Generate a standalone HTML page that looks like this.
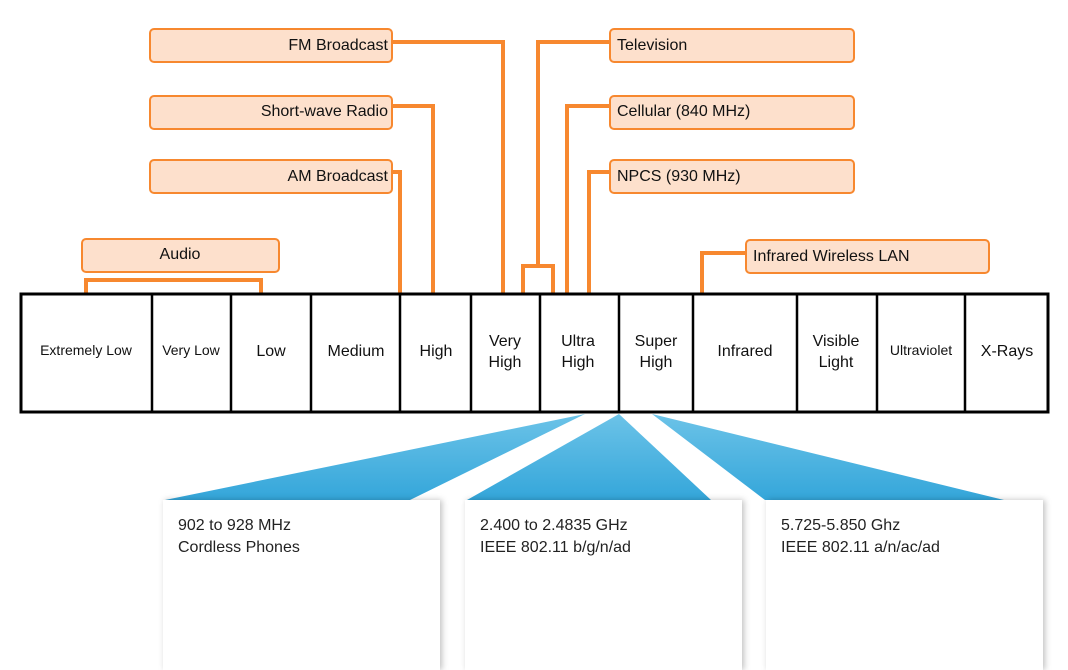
<!DOCTYPE html>
<html><head><style>
body{margin:0;width:1068px;height:661px;background:#fff;overflow:hidden;font-family:"Liberation Sans",sans-serif}
svg{position:absolute;left:0;top:0}
.card{position:absolute;top:500px;height:170px;background:#fff;box-shadow:2px 0 6px rgba(0,0,0,.25);font-size:16px;color:#222;line-height:22px;padding:15px 15px;box-sizing:border-box}
</style></head><body>
<svg width="1068" height="661" font-family="Liberation Sans, sans-serif">
<defs><linearGradient id="g" x1="0" y1="0" x2="0" y2="1"><stop offset="0" stop-color="#6cc3e8"/><stop offset="1" stop-color="#34a6da"/></linearGradient></defs>
<g fill="url(#g)">
<polygon points="585,414 165,500 410,500"/>
<polygon points="619,414 467,500 711,500"/>
<polygon points="652,414 765,500 1004,500"/>
</g>
<g stroke="#f7882f" stroke-width="4" fill="none">
<polyline points="392,42 503,42 503,293"/>
<polyline points="392,106 433,106 433,293"/>
<polyline points="392,172 400,172 400,293"/>
<polyline points="610,42 538,42 538,266"/>
<polyline points="523,293 523,266 553,266 553,293"/>
<polyline points="610,106 567,106 567,293"/>
<polyline points="610,172 589,172 589,293"/>
<polyline points="86,293 86,280 261,280 261,293"/>
<polyline points="746,253 702,253 702,293"/>
</g>
<g fill="#fde0cc" stroke="#f7882f" stroke-width="2">
<rect x="150" y="29" width="242" height="33" rx="4"/>
<rect x="150" y="96" width="242" height="33" rx="4"/>
<rect x="150" y="160" width="242" height="33" rx="4"/>
<rect x="610" y="29" width="244" height="33" rx="4"/>
<rect x="610" y="96" width="244" height="33" rx="4"/>
<rect x="610" y="160" width="244" height="33" rx="4"/>
<rect x="82" y="239" width="197" height="33" rx="4"/>
<rect x="746" y="240" width="243" height="33" rx="4"/>
</g>
<g font-size="16" fill="#111" dominant-baseline="middle">
<text x="388" y="46" text-anchor="end">FM Broadcast</text>
<text x="388" y="112" text-anchor="end">Short-wave Radio</text>
<text x="388" y="177" text-anchor="end">AM Broadcast</text>
<text x="617" y="46">Television</text>
<text x="617" y="112">Cellular (840 MHz)</text>
<text x="617" y="177">NPCS (930 MHz)</text>
<text x="180" y="255" text-anchor="middle">Audio</text>
<text x="753" y="257">Infrared Wireless LAN</text>
</g>
<rect x="21" y="294" width="1027" height="118" fill="#fff" stroke="#000" stroke-width="3"/>
<g stroke="#000" stroke-width="2.5">
<line x1="152" y1="294" x2="152" y2="412"/><line x1="231" y1="294" x2="231" y2="412"/>
<line x1="311" y1="294" x2="311" y2="412"/><line x1="400" y1="294" x2="400" y2="412"/>
<line x1="471" y1="294" x2="471" y2="412"/><line x1="540" y1="294" x2="540" y2="412"/>
<line x1="619" y1="294" x2="619" y2="412"/><line x1="693" y1="294" x2="693" y2="412"/>
<line x1="797" y1="294" x2="797" y2="412"/><line x1="877" y1="294" x2="877" y2="412"/>
<line x1="965" y1="294" x2="965" y2="412"/>
</g>
<g fill="#111" text-anchor="middle">
<text x="86" y="355" font-size="14">Extremely Low</text>
<text x="191" y="355" font-size="14">Very Low</text>
<text x="271" y="356" font-size="16">Low</text>
<text x="356" y="356" font-size="16">Medium</text>
<text x="436" y="356" font-size="16">High</text>
<text x="505" y="346" font-size="16">Very</text><text x="505" y="367" font-size="16">High</text>
<text x="578" y="346" font-size="16">Ultra</text><text x="578" y="367" font-size="16">High</text>
<text x="656" y="346" font-size="16">Super</text><text x="656" y="367" font-size="16">High</text>
<text x="745" y="356" font-size="16">Infrared</text>
<text x="836" y="346" font-size="16">Visible</text><text x="836" y="367" font-size="16">Light</text>
<text x="921" y="355" font-size="14">Ultraviolet</text>
<text x="1007" y="356" font-size="16">X-Rays</text>
</g>
</svg>
<div class="card" style="left:163px;width:277px">902 to 928 MHz<br>Cordless Phones</div>
<div class="card" style="left:465px;width:277px">2.400 to 2.4835 GHz<br>IEEE 802.11 b/g/n/ad</div>
<div class="card" style="left:766px;width:277px">5.725-5.850 Ghz<br>IEEE 802.11 a/n/ac/ad</div>
</body></html>
